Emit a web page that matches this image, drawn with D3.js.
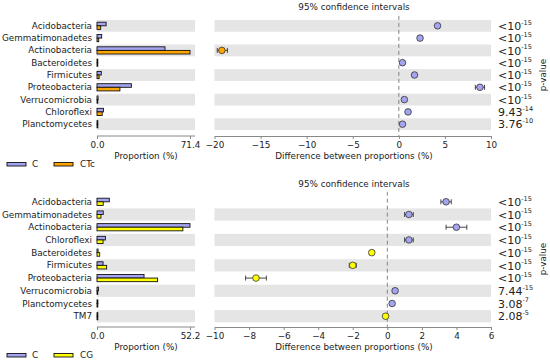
<!DOCTYPE html>
<html lang="en">
<head>
  <meta charset="UTF-8">
  <title>Extended error bar plots</title>
  <style>
    body { margin: 0; background: #fff; }
    svg text { font-family: 'DejaVu Sans', Verdana, sans-serif; fill: #222; }
  </style>
</head>
<body>
<div id="chart"></div>
<script src="https://d3js.org/d3.v7.min.js"></script>
<script>
// ---- top comparison: C vs CTc
var topTaxa = ["Acidobacteria", "Gemmatimonadetes", "Actinobacteria", "Bacteroidetes", "Firmicutes",
               "Proteobacteria", "Verrucomicrobia", "Chloroflexi", "Planctomycetes"];
var topC   = [7.0, 3.6, 52.2, 0.6, 3.3, 26.4, 0.8, 5.0, 0.6];
var topCTc = [2.8, 1.3, 71.4, 0.2, 1.6, 17.6, 0.2, 4.0, 0.2];
var topDiff = [4.2, 2.3, -19.2, 0.4, 1.7, 8.8, 0.6, 1.0, 0.4];
var topLo   = [4.0, 2.1, -19.7, 0.3, 1.5, 8.3, 0.45, 0.85, 0.3];
var topHi   = [4.4, 2.5, -18.6, 0.5, 1.9, 9.3, 0.75, 1.15, 0.5];
var topPBase = ["<10", "<10", "<10", "<10", "<10", "<10", "<10", "9.43", "3.76"];
var topPExp  = ["-15", "-15", "-15", "-15", "-15", "-15", "-15", "-14", "-10"];
var topTicks = [-20, -15, -10, -5, 0, 5, 10];

// ---- bottom comparison: C vs CG
var botTaxa = ["Acidobacteria", "Gemmatimonadetes", "Actinobacteria", "Chloroflexi", "Bacteroidetes",
               "Firmicutes", "Proteobacteria", "Verrucomicrobia", "Planctomycetes", "TM7"];
var botC  = [6.9, 3.5, 52.2, 4.7, 0.6, 3.4, 26.4, 0.8, 0.5, 0.05];
var botCG = [3.5, 2.2, 48.2, 3.4, 1.5, 5.4, 34.0, 0.4, 0.25, 0.15];
var botDiff = [3.4, 1.25, 4.0, 1.25, -0.9, -2.0, -7.6, 0.45, 0.28, -0.1];
var botLo   = [3.1, 1.0, 3.4, 1.0, -1.0, -2.2, -8.2, 0.35, 0.18, -0.15];
var botHi   = [3.7, 1.5, 4.6, 1.5, -0.8, -1.8, -7.0, 0.55, 0.38, -0.05];
var botPBase = ["<10", "<10", "<10", "<10", "<10", "<10", "<10", "7.44", "3.08", "2.08"];
var botPExp  = ["-15", "-15", "-15", "-15", "-15", "-15", "-15", "-15", "-7", "-5"];
var botTicks = [-10, -8, -6, -4, -2, 0, 2, 4, 6];

var colC = "#a4a4f0", colCTc = "#ffa500", colCG = "#ffff00";
var fs = 8.8;

var svg = d3.select("#chart").append("svg")
  .attr("width", 550).attr("height", 364);

drawPanel({
  taxa: topTaxa, a: topC, b: topCTc, diff: topDiff, lo: topLo, hi: topHi,
  pBase: topPBase, pExp: topPExp, ticks: topTicks, dom: [-20, 10],
  nameA: "C", nameB: "CTc", colB: colCTc,
  y0: 19.9, y1: 130.1, axisY: 136, titleY: 10
});
drawPanel({
  taxa: botTaxa, a: botC, b: botCG, diff: botDiff, lo: botLo, hi: botHi,
  pBase: botPBase, pExp: botPExp, ticks: botTicks, dom: [-10, 6],
  nameA: "C", nameB: "CG", colB: colCG,
  y0: 195.7, y1: 322.3, axisY: 327, titleY: 187
});

function drawPanel(p) {
  var g = svg.append("g");
  var maxV = d3.max(p.a.concat(p.b));

  var y = d3.scaleBand().domain(p.taxa).range([p.y0, p.y1]).paddingInner(0.04);
  var xl = d3.scaleLinear().domain([0, maxV]).range([97, 190]);
  var xr = d3.scaleLinear().domain(p.dom).range([214.5, 491]);
  var n = p.taxa.length;

  // alternating background bands (bottom row is shaded)
  var shaded = p.taxa.filter(function(d, i) { return (n - 1 - i) % 2 === 0; });
  g.selectAll(".bandL").data(shaded).join("rect")
    .attr("x", 97).attr("width", 98)
    .attr("y", function(d) { return y(d); }).attr("height", y.bandwidth())
    .attr("fill", "#e5e5e5");
  g.selectAll(".bandR").data(shaded).join("rect")
    .attr("x", xr.range()[0]).attr("width", xr.range()[1] - xr.range()[0])
    .attr("y", function(d) { return y(d); }).attr("height", y.bandwidth())
    .attr("fill", "#e5e5e5");

  // category labels
  g.selectAll(".lab").data(p.taxa).join("text")
    .attr("x", 92).attr("y", function(d) { return y(d) + y.bandwidth() / 2; })
    .attr("dy", "0.35em").attr("text-anchor", "end")
    .attr("font-size", fs).text(function(d) { return d; });

  // bars
  var bh = 3.6;
  var mid = function(i) { return y(p.taxa[i]) + y.bandwidth() / 2; };
  g.selectAll(".barA").data(p.a).join("rect")
    .attr("x", xl(0)).attr("width", function(d) { return Math.max(0.8, xl(d) - xl(0)); })
    .attr("y", function(d, i) { return mid(i) - bh; }).attr("height", bh)
    .attr("fill", colC).attr("stroke", "#111").attr("stroke-width", 0.9);
  g.selectAll(".barB").data(p.b).join("rect")
    .attr("x", xl(0)).attr("width", function(d) { return Math.max(0.8, xl(d) - xl(0)); })
    .attr("y", function(d, i) { return mid(i); }).attr("height", bh)
    .attr("fill", p.colB).attr("stroke", "#111").attr("stroke-width", 0.9);

  // left axis
  var axL = g.append("g").attr("transform", "translate(0," + p.axisY + ")")
    .call(d3.axisBottom(xl).tickValues([0, maxV]).tickFormat(d3.format(".1f")).tickSize(3).tickSizeOuter(0));
  axL.select(".domain").attr("d", "M97,0H195").attr("stroke", "#888");
  axL.selectAll(".tick line").attr("stroke", "#888");
  axL.selectAll("text").attr("font-size", fs).attr("fill", "#222").attr("y", 6);

  g.append("text").attr("x", 146).attr("y", p.axisY + 23)
    .attr("text-anchor", "middle").attr("font-size", fs).text("Proportion (%)");

  // legend
  var ly = p.axisY + 28;
  g.append("rect").attr("x", 7).attr("y", ly - 1.5).attr("width", 19).attr("height", 3.5)
    .attr("fill", colC).attr("stroke", "#111").attr("stroke-width", 0.9);
  g.append("text").attr("x", 32).attr("y", ly).attr("dy", "0.35em").attr("font-size", fs).text(p.nameA);
  g.append("rect").attr("x", 54).attr("y", ly - 1.5).attr("width", 19).attr("height", 3.5)
    .attr("fill", p.colB).attr("stroke", "#111").attr("stroke-width", 0.9);
  g.append("text").attr("x", 80).attr("y", ly).attr("dy", "0.35em").attr("font-size", fs).text(p.nameB);

  // right axis
  var axR = g.append("g").attr("transform", "translate(0," + p.axisY + ")")
    .call(d3.axisBottom(xr).tickValues(p.ticks).tickFormat(function(d) { return d < 0 ? "\u2212" + (-d) : d; }).tickSize(3).tickSizeOuter(0));
  axR.select(".domain").attr("stroke", "#888");
  axR.selectAll(".tick line").attr("stroke", "#888");
  axR.selectAll("text").attr("font-size", fs).attr("fill", "#222").attr("y", 6);

  g.append("text").attr("x", 354).attr("y", p.axisY + 23)
    .attr("text-anchor", "middle").attr("font-size", fs).text("Difference between proportions (%)");
  g.append("text").attr("x", 354).attr("y", p.titleY)
    .attr("text-anchor", "middle").attr("font-size", fs).text("95% confidence intervals");

  // zero line
  g.append("line").attr("x1", xr(0)).attr("x2", xr(0))
    .attr("y1", p.y0 - 4).attr("y2", p.axisY)
    .attr("stroke", "#777").attr("stroke-width", 0.9).attr("stroke-dasharray", "4,3");

  // confidence intervals
  var ci = g.selectAll(".ci").data(p.diff).join("g");
  ci.append("line")
    .attr("x1", function(d, i) { return xr(p.lo[i]); }).attr("x2", function(d, i) { return xr(p.hi[i]); })
    .attr("y1", function(d, i) { return mid(i); }).attr("y2", function(d, i) { return mid(i); })
    .attr("stroke", "#333").attr("stroke-width", 0.9);
  ci.append("line")
    .attr("x1", function(d, i) { return xr(p.lo[i]); }).attr("x2", function(d, i) { return xr(p.lo[i]); })
    .attr("y1", function(d, i) { return mid(i) - 2.5; }).attr("y2", function(d, i) { return mid(i) + 2.5; })
    .attr("stroke", "#333").attr("stroke-width", 0.9);
  ci.append("line")
    .attr("x1", function(d, i) { return xr(p.hi[i]); }).attr("x2", function(d, i) { return xr(p.hi[i]); })
    .attr("y1", function(d, i) { return mid(i) - 2.5; }).attr("y2", function(d, i) { return mid(i) + 2.5; })
    .attr("stroke", "#333").attr("stroke-width", 0.9);
  ci.append("circle")
    .attr("cx", function(d) { return xr(d); }).attr("cy", function(d, i) { return mid(i); })
    .attr("r", 3.3)
    .attr("fill", function(d) { return d >= 0 ? colC : p.colB; })
    .attr("stroke", "#333").attr("stroke-width", 0.8);

  // p-values
  var pt = g.selectAll(".pv").data(p.pBase).join("text")
    .attr("x", 498).attr("y", function(d, i) { return mid(i); })
    .attr("dy", "0.38em").attr("font-size", 11);
  pt.append("tspan").text(function(d) { return d; });
  pt.append("tspan").attr("font-size", 6.5).attr("dy", "-0.8em")
    .text(function(d, i) { return p.pExp[i]; });

  g.append("text")
    .attr("transform", "translate(546," + ((p.y0 + p.y1) / 2) + ") rotate(-90)")
    .attr("text-anchor", "middle").attr("font-size", fs).text("p-value");
}
</script>
</body>
</html>
